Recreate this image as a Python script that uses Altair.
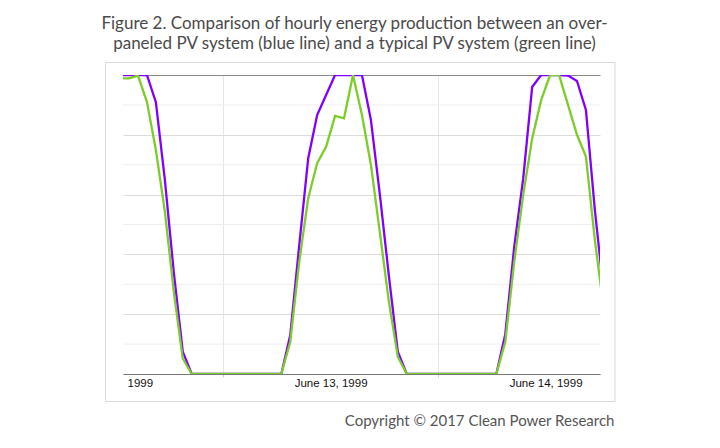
import altair as alt
import pandas as pd

# Hours relative to midnight June 13, 1999 (hourly samples at :30)
hours = [-11.5 + i for i in range(55)]

overpaneled = [
    10, 10, 10, 10, 9.09, 6.5, 3.4, 0.75,
    0, 0, 0, 0, 0, 0, 0, 0, 0, 0, 0,
    1.30, 4.3, 7.21, 8.66, 9.33, 10, 10, 10, 10, 8.5, 6.0, 3.3, 0.75,
    0, 0, 0, 0, 0, 0, 0, 0, 0, 0, 0,
    1.33, 4.26, 6.54, 9.6, 10, 10, 10, 9.98, 9.8, 8.83, 5.47, 2.7,
]
typical = [
    9.89, 9.89, 9.98, 9.1, 7.49, 5.44, 2.75, 0.52,
    0, 0, 0, 0, 0, 0, 0, 0, 0, 0, 0,
    1.08, 3.75, 5.88, 7.05, 7.6, 8.63, 8.55, 10, 8.66, 7.0, 4.73, 2.43, 0.58,
    0, 0, 0, 0, 0, 0, 0, 0, 0, 0, 0,
    1.08, 3.76, 5.99, 7.88, 9.16, 10, 10, 9.0, 8.0, 7.27, 4.47, 2.15,
]

x_domain = [-11.17, 42.07]
grid_hours = [0, 24]
label_hours = [-10.72, 12, 36]
label_texts = ["1999", "June 13, 1999", "June 14, 1999"]
y_major = [0, 2, 4, 6, 8]
y_minor = [1, 3, 5, 7, 9]
y_top = [10]

title_lines = [
    "Figure 2. Comparison of hourly energy production between an over-",
    "paneled PV system (blue line) and a typical PV system (green line)",
]
copyright_text = "Copyright \u00a9 2017 Clean Power Research"

purple = "#8000ff"
green = "#7ccd2a"

df_over = pd.DataFrame({"hour": hours, "value": overpaneled})
df_typ = pd.DataFrame({"hour": hours, "value": typical})
df_minor = pd.DataFrame({"v": y_minor, "x0": x_domain[0], "x1": x_domain[1]})

label_expr = " : ".join(
    [f"abs(datum.value - ({h})) < 0.01 ? '{t}'" for h, t in zip(label_hours, label_texts)]
) + " : ''"
grid_test = " || ".join([f"datum.value == {g}" for g in grid_hours])

x_scale = alt.Scale(domain=x_domain, nice=False, zero=False)
y_scale = alt.Scale(domain=[0, 10], nice=False)

x_enc = alt.X(
    "hour:Q",
    scale=x_scale,
    axis=alt.Axis(
        values=sorted(label_hours + grid_hours),
        labelExpr=label_expr,
        labelFlush=8,
        labelOverlap=False,
        labelFont="Liberation Sans",
        labelFontSize=11.5,
        labelColor="#111",
        labelPadding=0,
        tickSize=3,
        tickColor="#cccccc",
        tickOpacity={"condition": {"test": grid_test, "value": 1}, "value": 0},
        grid=True,
        gridColor="#e6e6e6",
        gridOpacity={"condition": {"test": grid_test, "value": 1}, "value": 0},
        domainColor="#777777",
        domainWidth=1.2,
        title=copyright_text,
        titleFont="Lato",
        titleFontSize=15,
        titleFontWeight="normal",
        titleColor="#555555",
        titleAlign="right",
        titleBaseline="alphabetic",
        titleX=491,
        titleY=51,
    ),
)
y_enc = alt.Y(
    "value:Q",
    scale=y_scale,
    axis=alt.Axis(
        values=y_major + y_top,
        labels=False,
        ticks=False,
        domain=False,
        title=None,
        grid=True,
        gridColor={"condition": {"test": "datum.value == 10", "value": "#8a8a8a"}, "value": "#dcdcdc"},
        gridWidth={"condition": {"test": "datum.value == 10", "value": 1.2}, "value": 1},
    ),
)

frame = alt.Chart(pd.DataFrame({"a": [0]})).mark_rect(
    fill="white", fillOpacity=0, stroke="#d9d9d9", strokeWidth=1
).encode(
    x=alt.value(-17.5), x2=alt.value(492), y=alt.value(-12.5), y2=alt.value(326.5)
)

minor_grid = alt.Chart(df_minor).mark_rule(color="#eeeeee", strokeWidth=1).encode(
    x=alt.X("x0:Q", scale=x_scale), x2="x1:Q", y=alt.Y("v:Q", scale=y_scale)
)

line_over = alt.Chart(df_over).mark_line(color=purple, strokeWidth=2.3, clip=True).encode(
    x=x_enc, y=y_enc
)
line_typ = alt.Chart(df_typ).mark_line(color=green, strokeWidth=2.3, clip=True).encode(
    x="hour:Q", y="value:Q"
)

chart = alt.layer(frame, minor_grid, line_over, line_typ).properties(
    width=477,
    height=299,
    padding={"left": 115, "top": 67, "right": 100, "bottom": 62},
    autosize=alt.AutoSizeParams(type="none"),
    background="white",
    title=alt.TitleParams(
        text=title_lines,
        font="Lato",
        fontSize=17,
        fontWeight="normal",
        color="#4a4a4a",
        anchor="middle",
        dx=-7,
        lineHeight=20,
        offset=9,
    ),
).configure_view(stroke=None)

chart.save("out.html", embed_options={"renderer": "svg", "actions": False})
